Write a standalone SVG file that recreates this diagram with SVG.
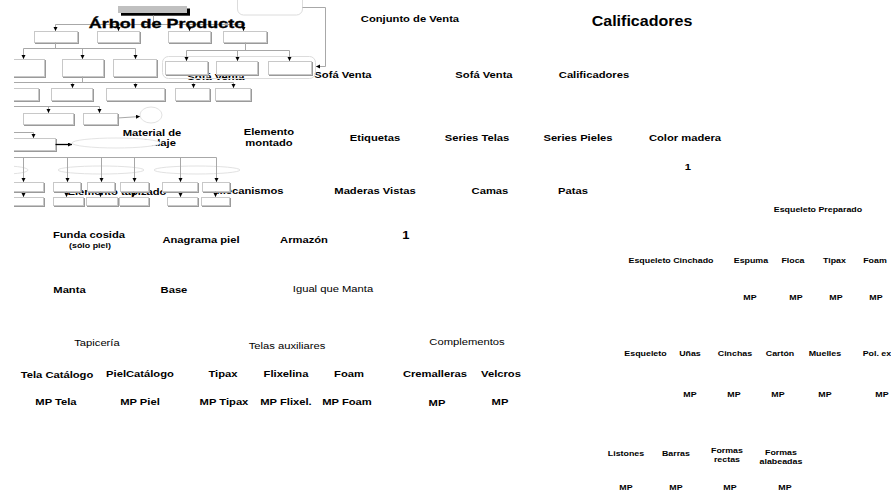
<svg xmlns="http://www.w3.org/2000/svg" width="891" height="501" viewBox="0 0 891 501">
<style>
.t{font-family:"Liberation Sans",Arial,sans-serif;font-weight:bold;font-size:9.5px;text-anchor:middle;fill:#000;transform-box:fill-box;transform-origin:center;transform:scaleX(1.18)}
.s{font-size:7.5px}
.n{font-weight:normal}
.big{font-size:15px;transform:scaleX(1.07)}
.ttl{font-size:13px;transform:scaleX(1.38);stroke:#000;stroke-width:0.35}
.bx{fill:#fff;stroke:#c8c8c8;stroke-width:1;filter:url(#ds)}
.rr{fill:none;stroke:#dcdcdc;stroke-width:1}
.el{fill:none;stroke:#e2e2e2;stroke-width:1}
.c{fill:none;stroke:#a8a8a8;stroke-width:1}
.a{marker-end:url(#ah)}
</style>
<defs>
<marker id="ah" markerUnits="userSpaceOnUse" markerWidth="5" markerHeight="5" refX="4" refY="2" orient="auto"><path d="M0,0 L4,2 L0,4 z" fill="#000"/></marker>
<filter id="ds" x="-10%" y="-20%" width="130%" height="160%"><feDropShadow dx="1" dy="1" stdDeviation="0" flood-color="#9a9a9a"/></filter>
<clipPath id="cl"><rect x="14" y="0" width="877" height="501"/></clipPath>
</defs>
<rect width="891" height="501" fill="#fff"/>

<g id="labels">
<text class="t" x="410" y="22">Conjunto de Venta</text>
<text class="t big" x="642" y="26">Calificadores</text>
<text class="t" x="216" y="80.5">Sofá Venta</text>
<text class="t" x="343" y="78">Sofá Venta</text>
<text class="t" x="484" y="78">Sofá Venta</text>
<text class="t" x="594" y="78">Calificadores</text>
<text class="t" x="152" y="136">Material de</text>
<text class="t" x="152" y="146">embalaje</text>
<text class="t" x="269" y="135">Elemento</text>
<text class="t" x="269" y="146">montado</text>
<text class="t" x="375" y="141">Etiquetas</text>
<text class="t" x="477" y="141">Series Telas</text>
<text class="t" x="578" y="141">Series Pieles</text>
<text class="t" x="685" y="141">Color madera</text>
<text class="t" x="688" y="170">1</text>
<text class="t" x="117" y="195">Elemento tapizado</text>
<text class="t" x="250" y="194">Mecanismos</text>
<text class="t" x="375" y="194">Maderas Vistas</text>
<text class="t" x="490" y="194">Camas</text>
<text class="t" x="573" y="194">Patas</text>
<text class="t s" x="818" y="212">Esqueleto Preparado</text>
<text class="t" x="89" y="238">Funda cosida</text>
<text class="t s" x="90" y="248">(sólo piel)</text>
<text class="t" x="201" y="243">Anagrama piel</text>
<text class="t" x="304" y="243">Armazón</text>
<text class="t" x="406" y="239" style="font-size:11px">1</text>
<text class="t s" x="671" y="263">Esqueleto Cinchado</text>
<text class="t s" x="751" y="263">Espuma</text>
<text class="t s" x="793" y="263">Floca</text>
<text class="t s" x="834.5" y="263">Tipax</text>
<text class="t s" x="875" y="263">Foam</text>
<text class="t" x="69.5" y="293">Manta</text>
<text class="t" x="174" y="293">Base</text>
<text class="t n" x="333" y="292">Igual que Manta</text>
<text class="t s" x="750" y="300">MP</text>
<text class="t s" x="796" y="300">MP</text>
<text class="t s" x="836" y="300">MP</text>
<text class="t s" x="876" y="300">MP</text>
<text class="t n" x="97" y="346">Tapicería</text>
<text class="t n" x="287" y="349">Telas auxiliares</text>
<text class="t n" x="467" y="345">Complementos</text>
<text class="t s" x="645.5" y="356">Esqueleto</text>
<text class="t s" x="690" y="356">Uñas</text>
<text class="t s" x="735" y="356">Cinchas</text>
<text class="t s" x="780" y="356">Cartón</text>
<text class="t s" x="825" y="356">Muelles</text>
<text class="t s" x="877" y="356">Pol. ex</text>
<text class="t" x="57" y="378">Tela Catálogo</text>
<text class="t" x="140" y="377">PielCatálogo</text>
<text class="t" x="223" y="377">Tipax</text>
<text class="t" x="286" y="377">Flixelina</text>
<text class="t" x="349" y="377">Foam</text>
<text class="t" x="435" y="377">Cremalleras</text>
<text class="t" x="501" y="377">Velcros</text>
<text class="t s" x="690" y="397">MP</text>
<text class="t s" x="734" y="397">MP</text>
<text class="t s" x="778" y="397">MP</text>
<text class="t s" x="825" y="397">MP</text>
<text class="t s" x="882" y="397">MP</text>
<text class="t" x="56" y="405">MP Tela</text>
<text class="t" x="140" y="405">MP Piel</text>
<text class="t" x="224" y="405">MP Tipax</text>
<text class="t" x="286" y="405">MP Flixel.</text>
<text class="t" x="347" y="405">MP Foam</text>
<text class="t" x="437" y="406">MP</text>
<text class="t" x="500" y="405">MP</text>
<text class="t s" x="626" y="456">Listones</text>
<text class="t s" x="676" y="456">Barras</text>
<text class="t s" x="727" y="453">Formas</text>
<text class="t s" x="727" y="462">rectas</text>
<text class="t s" x="781" y="455">Formas</text>
<text class="t s" x="781" y="464">alabeadas</text>
<text class="t s" x="626" y="490">MP</text>
<text class="t s" x="676" y="490">MP</text>
<text class="t s" x="730" y="490">MP</text>
<text class="t s" x="785" y="490">MP</text>
</g>

<g id="tree" clip-path="url(#cl)">
<g id="root"><rect x="121" y="8.5" width="69" height="7.2" fill="#000"/><rect x="118" y="6" width="69" height="7" fill="#c0c0c0"/></g>
<rect id="top-group" class="rr" x="237.5" y="-8" width="65" height="23" rx="6"/>
<rect id="sofa-group" class="rr" x="162.5" y="56.5" width="153" height="22" rx="6"/>
<g id="row1">
<rect class="bx" x="34.5" y="31.5" width="43" height="11"/>
<rect class="bx" x="97.5" y="31.5" width="42" height="11"/>
<rect class="bx" x="168.5" y="31.5" width="42" height="11"/>
<rect class="bx" x="223.5" y="31.5" width="43" height="11"/>
</g>
<g id="row2">
<rect class="bx" x="8.5" y="59.5" width="36" height="17"/>
<rect class="bx" x="62.5" y="59.5" width="41" height="17"/>
<rect class="bx" x="113.5" y="59.5" width="43" height="17"/>
<rect class="bx" x="165.5" y="61.5" width="42" height="13"/>
<rect class="bx" x="216.5" y="61.5" width="41" height="13"/>
<rect class="bx" x="268.5" y="61.5" width="43" height="13"/>
</g>
<g id="row3">
<rect class="bx" x="8.5" y="88.5" width="30" height="12"/>
<rect class="bx" x="51.5" y="88.5" width="41" height="12"/>
<rect class="bx" x="106.5" y="88.5" width="58" height="12"/>
<rect class="bx" x="175.5" y="88.5" width="34" height="12"/>
<rect class="bx" x="215.5" y="88.5" width="35" height="12"/>
</g>
<g id="row4">
<rect class="bx" x="23.5" y="113.5" width="50" height="11"/>
<rect class="bx" x="83.5" y="113.5" width="34" height="11"/>
<ellipse class="el" cx="151" cy="115" rx="11" ry="8"/>
</g>
<g id="row5">
<rect class="bx" x="8.5" y="138.5" width="47" height="12"/>
<ellipse cx="116" cy="143" rx="44" ry="5" fill="#fff" stroke="#e4e4e4"/>
</g>
<g id="row6">
<ellipse class="el" cx="5" cy="170" rx="23" ry="4"/>
<ellipse class="el" cx="101" cy="170" rx="43" ry="4"/>
<ellipse class="el" cx="197" cy="170" rx="43" ry="4"/>
<rect class="bx" x="8.5" y="182.5" width="35" height="9"/>
<rect class="bx" x="53.5" y="182.5" width="27" height="9"/>
<rect class="bx" x="87.5" y="182.5" width="27" height="9"/>
<rect class="bx" x="120.5" y="182.5" width="28" height="9"/>
<rect class="bx" x="162.5" y="182.5" width="35" height="9"/>
<rect class="bx" x="202.5" y="182.5" width="27" height="9"/>
<rect class="bx" x="8.5" y="197.5" width="35" height="8"/>
<rect class="bx" x="53.5" y="197.5" width="30" height="8"/>
<rect class="bx" x="86.5" y="197.5" width="31" height="8"/>
<rect class="bx" x="119.5" y="197.5" width="29" height="8"/>
<rect class="bx" x="167.5" y="197.5" width="30" height="8"/>
<rect class="bx" x="201.5" y="197.5" width="28" height="8"/>
</g>
<g id="connectors">
<path class="c" d="M153.5,15.5 V24.5 M55.5,24.5 H243.5 M55.5,42.5 V48.5 M23.5,48.5 H135.5 M245.5,42.5 V50.5 M186.5,50.5 H289.5 M302.5,7.5 H325.5 V66.5 M82.5,76.5 V82.5 M14,82.5 H233.5 M14,106.5 H99.5 M14,132.5 H33.5 M14,157.5 H216.5"/>
<path class="c a" d="M55.5,24.5 V31"/>
<path class="c a" d="M118.5,24.5 V31"/>
<path class="c a" d="M189.5,24.5 V31"/>
<path class="c a" d="M243.5,24.5 V31"/>
<path class="c a" d="M23.5,48.5 V59"/>
<path class="c a" d="M82.5,48.5 V59"/>
<path class="c a" d="M135.5,48.5 V59"/>
<path class="c a" d="M186.5,50.5 V61"/>
<path class="c a" d="M237.5,50.5 V61"/>
<path class="c a" d="M289.5,50.5 V61"/>
<path class="c a" d="M325.5,66.5 H316"/>
<path class="c a" d="M72.5,82.5 V88"/>
<path class="c a" d="M135.5,82.5 V88"/>
<path class="c a" d="M193.5,82.5 V88"/>
<path class="c a" d="M233.5,82.5 V88"/>
<path class="c a" d="M48.5,106.5 V113"/>
<path class="c a" d="M99.5,106.5 V113"/>
<path class="c a" d="M117.5,118 L140,116.5"/>
<path class="c a" d="M33.5,132.5 V138"/>
<path class="a" d="M55.5,144.5 H72" stroke="#000" stroke-width="1.3" fill="none"/>
<path class="c a" d="M23.5,157.5 V182"/>
<path class="c a" d="M67.5,157.5 V182"/>
<path class="c a" d="M101.5,157.5 V182"/>
<path class="c a" d="M134.5,157.5 V182"/>
<path class="c a" d="M180.5,157.5 V182"/>
<path class="c a" d="M216.5,157.5 V182"/>
<path class="c a" d="M23.5,191.5 V197"/>
<path class="c a" d="M66.5,191.5 V197"/>
<path class="c a" d="M100.5,191.5 V197"/>
<path class="c a" d="M133.5,191.5 V197"/>
<path class="c a" d="M180.5,191.5 V197"/>
<path class="c a" d="M215.5,191.5 V197"/>
</g>
</g>
<text id="title" class="t ttl" x="167" y="28">Árbol de Producto</text>
</svg>
